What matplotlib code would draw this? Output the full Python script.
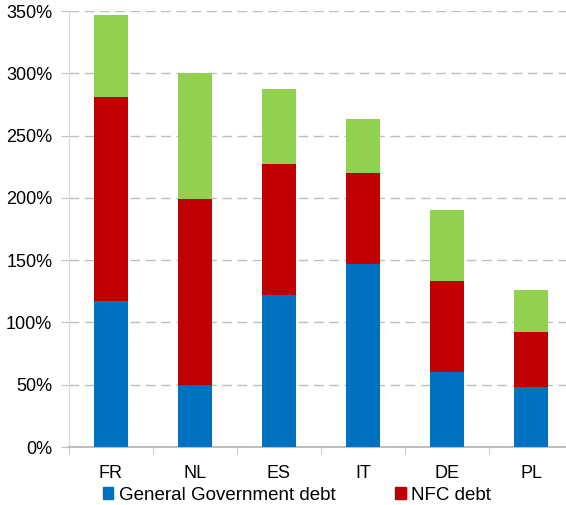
import numpy as np
import matplotlib.pyplot as plt
from matplotlib.patches import Patch

plt.rcParams['font.family'] = ['Liberation Sans', 'DejaVu Sans']

# datos (% del PIB)
countries = ['FR', 'NL', 'ES', 'IT', 'DE', 'PL']
gov_debt = [117, 50, 122, 147, 60, 48]
nfc_debt = [164, 149, 105, 73, 73, 44]
hh_debt = [66, 101, 60, 43, 57, 34]
yticks = [0, 50, 100, 150, 200, 250, 300, 350]

blue = '#0070C0'
red = '#C00000'
green = '#92D050'

fig = plt.figure(figsize=(5.66, 5.05), dpi=100)
ax = fig.add_axes([69 / 566, 1 - 447 / 505, 504 / 566, 436 / 505])

x = np.arange(len(countries))
gov = np.array(gov_debt)
nfc = np.array(nfc_debt)
ax.bar(x, gov, width=0.4, color=blue, zorder=3)
ax.bar(x, nfc, width=0.4, bottom=gov, color=red, zorder=3)
ax.bar(x, hh_debt, width=0.4, bottom=gov + nfc, color=green, zorder=3)

ax.set_xlim(-0.5, len(countries) - 0.5)
ax.set_ylim(0, 350)
ax.set_yticks(yticks)
ax.set_yticklabels([f'{v}%' for v in yticks], fontsize=13)
ax.set_xticks(x)
ax.set_xticklabels(countries, fontsize=13)
ax.set_xticks(np.arange(len(countries) + 1) - 0.5, minor=True)
ax.tick_params(axis='x', which='major', length=0, pad=13)
ax.tick_params(axis='x', which='minor', length=5, color='#BFBFBF')
ax.tick_params(axis='y', length=6, color='#BFBFBF', pad=6)

ax.grid(axis='y', linestyle=(0, (7, 4)), color='#BFBFBF', linewidth=1, zorder=0)
for s in ['top', 'right']:
    ax.spines[s].set_visible(False)
ax.spines['left'].set_color('#D9D9D9')
ax.spines['bottom'].set_color('#BFBFBF')
ax.spines['bottom'].set_linewidth(1.5)

handles = [Patch(color=blue), Patch(color=red)]
fig.legend(handles, ['General Government debt', 'NFC debt'], loc='center left',
           bbox_to_anchor=(86 / 566, 1 - 495 / 505), ncol=2, frameon=False,
           fontsize=13.5, handlelength=0.55, handleheight=0.55, handletextpad=0.3,
           columnspacing=3.2)

fig.savefig('out.png')
